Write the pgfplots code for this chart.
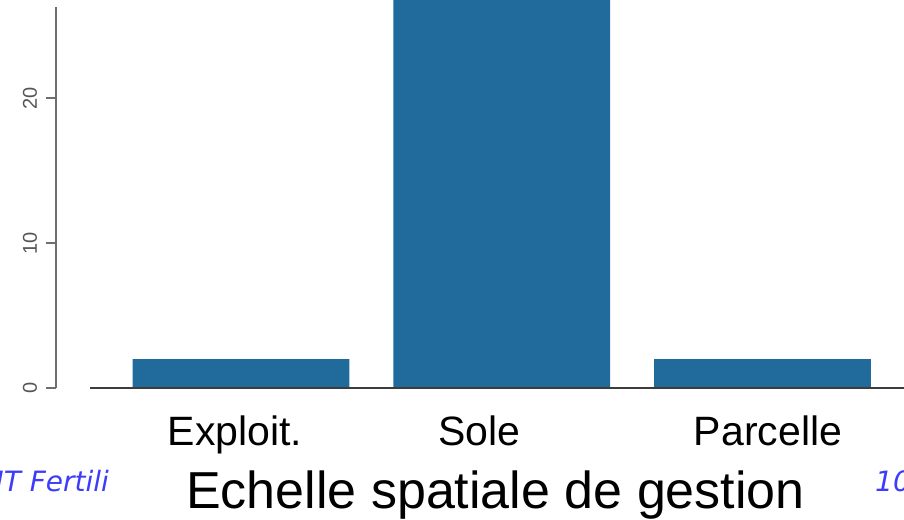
\documentclass[border=0pt]{standalone}
\usepackage{pgfplots}
\pgfplotsset{compat=1.18}
\usepackage{fontspec}
\setmainfont{Liberation Sans}
\newfontfamily\footfont{DejaVu Sans}
\definecolor{barblue}{RGB}{32,107,155}
\definecolor{footblue}{RGB}{60,60,250}
\definecolor{axgray}{RGB}{110,110,110}
\definecolor{tickgray}{RGB}{85,85,85}
\definecolor{basegray}{RGB}{60,60,60}
\begin{document}
\begin{tikzpicture}[x=1pt,y=1pt]
% origin = lower-left corner of the axis box (pixel 56,388)
\path[use as bounding box, clip] (-56,388) rectangle (848,-131);
\node[anchor=base west, inner sep=0, text=footblue, font=\footfont\itshape\fontsize{28}{33}\selectfont] at (-96,-103) {RMT Fertili};
\node[anchor=base west, inner sep=0, text=footblue, font=\footfont\itshape\fontsize{28}{33}\selectfont] at (819,-103) {10};
\fill[white] (59,-67) rectangle (816,-131);
\begin{axis}[
  anchor=south west, at={(0,0)},
  scale only axis, width=848pt, height=381pt,
  xmin=-0.7095, xmax=2.5427, ymin=0, ymax=26.28,
  clip=false,
  axis y line*=left, axis x line*=bottom,
  x axis line style={draw=none},
  y axis line style={axgray, line width=1.6pt},
  xtick={-0.023,0.913,2.021}, xticklabels={Exploit.,Sole,Parcelle},
  xtick style={draw=none},
  ytick={0,10,20},
  ytick style={axgray, line width=1.6pt},
  tick align=outside, major tick length=10pt,
  /pgf/number format/assume math mode=true,
  yticklabel style={xshift=-9pt, rotate=90, anchor=base, text=tickgray, font=\fontsize{20}{24}\selectfont},
  xticklabel style={anchor=base, font=\fontsize{41}{48}\selectfont, yshift=-47pt},
  xlabel={Echelle spatiale de gestion},
  xlabel style={at={(axis description cs:0.5183,0)}, anchor=base, yshift=-120pt, font=\fontsize{52}{60}\selectfont},
]
\addplot[ybar, bar width=0.832, fill=barblue, draw=none] coordinates {(0,2) (1,28) (2,2)};
\draw[basegray, line width=2pt] (axis cs:-0.578,0) -- (axis cs:2.6,0);
\end{axis}
\end{tikzpicture}
\end{document}
